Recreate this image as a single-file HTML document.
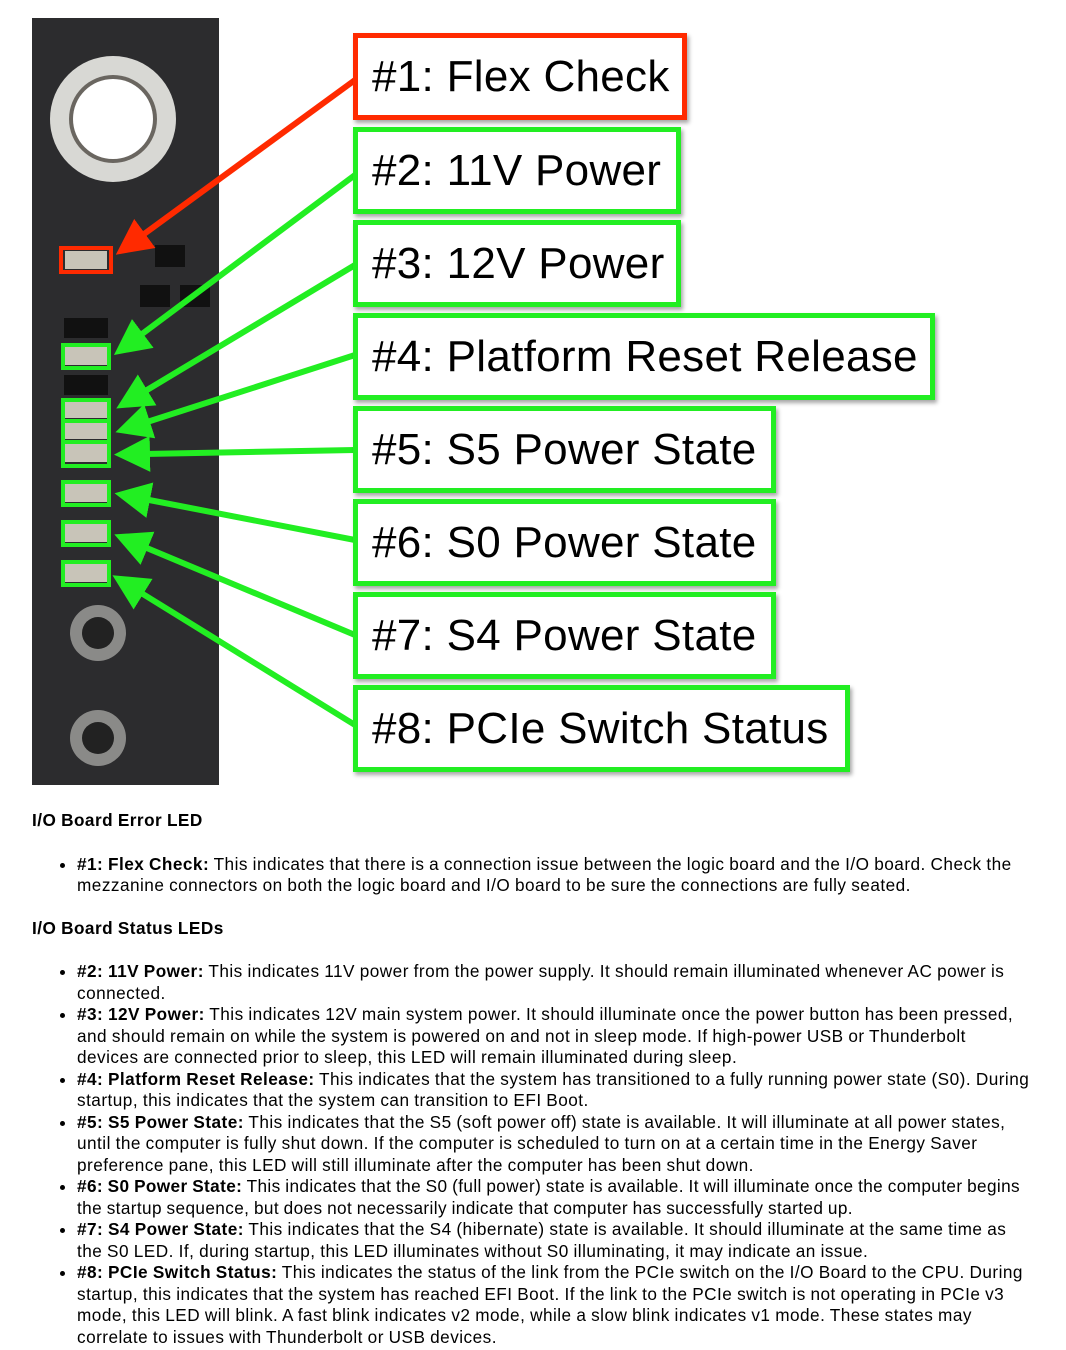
<!DOCTYPE html>
<html><head><meta charset="utf-8"><style>
body{margin:0;background:#fff;width:1066px;height:1350px;position:relative;overflow:hidden;font-family:"Liberation Sans",Arial,sans-serif;color:#000}
.box{position:absolute;left:353px;height:77px;border:5px solid #22ee22;box-sizing:content-box;background:#fff;font-size:44px;line-height:77px;padding-left:14px;box-shadow:2px 3px 4px rgba(0,0,0,.35);white-space:nowrap;letter-spacing:0.3px}
.txt{position:absolute;left:32px;top:810px;width:998px;font-size:17.2px;line-height:21.5px;letter-spacing:0.47px;word-spacing:-0.5px}
h4{font-size:17.2px;margin:0;font-weight:bold}
ul{margin:0;padding-left:45px}
li{margin:0}
</style></head><body>
<svg width="1066" height="800" style="position:absolute;left:0;top:0">
<defs>
<marker id="g" markerWidth="6" markerHeight="6" refX="1" refY="3" orient="auto" markerUnits="strokeWidth"><path d="M0,0 L6,3 L0,6 z" fill="#22ee22"/></marker>
<marker id="r" markerWidth="6" markerHeight="6" refX="1" refY="3" orient="auto" markerUnits="strokeWidth"><path d="M0,0 L6,3 L0,6 z" fill="#ff2a00"/></marker>
</defs>
<rect x="32" y="18" width="187" height="767" fill="#2c2c2e"/>
<circle cx="113" cy="119" r="63" fill="#d8d8d4"/>
<circle cx="113" cy="119" r="44" fill="#6a6660"/>
<circle cx="113" cy="119" r="40" fill="#fff"/>
<g fill="#c8c4b8">
<rect x="65" y="251" width="42" height="18"/><rect x="65" y="347" width="42" height="18"/>
<rect x="65" y="402" width="42" height="16"/><rect x="65" y="423" width="42" height="16"/><rect x="65" y="444" width="42" height="18"/>
<rect x="65" y="484" width="42" height="18"/><rect x="65" y="524" width="42" height="18"/><rect x="65" y="564" width="42" height="18"/>
</g>
<g fill="#111"><rect x="155" y="245" width="30" height="22"/><rect x="140" y="285" width="30" height="22"/><rect x="180" y="285" width="30" height="22"/><rect x="64" y="318" width="44" height="20"/><rect x="64" y="375" width="44" height="20"/></g>
<circle cx="98" cy="633" r="28" fill="#8a8a88"/><circle cx="98" cy="633" r="16" fill="#222"/>
<circle cx="98" cy="738" r="28" fill="#8a8a88"/><circle cx="98" cy="738" r="16" fill="#222"/>
<rect x="61" y="248" width="50" height="24" fill="none" stroke="#ff2a00" stroke-width="4"/>
<g fill="none" stroke="#22ee22" stroke-width="4">
<rect x="63" y="345" width="46" height="23"/><rect x="63" y="400" width="46" height="66"/>
<line x1="63" y1="421" x2="109" y2="421"/><line x1="63" y1="442" x2="109" y2="442"/>
<rect x="63" y="482" width="46" height="23"/><rect x="63" y="522" width="46" height="23"/><rect x="63" y="562" width="46" height="23"/>
</g>
<g stroke-width="6">
<line x1="355" y1="80" x2="140" y2="237" stroke="#ff2a00" marker-end="url(#r)"/>
<g stroke="#22ee22" marker-end="url(#g)">
<line x1="355" y1="175" x2="138" y2="337"/>
<line x1="355" y1="265" x2="142" y2="393"/>
<line x1="355" y1="355" x2="144" y2="423"/>
<line x1="355" y1="450" x2="144" y2="454"/>
<line x1="355" y1="540" x2="144" y2="499"/>
<line x1="355" y1="635" x2="142" y2="546"/>
<line x1="355" y1="725" x2="138" y2="591"/>
</g></g>
</svg>
<div class="box" style="top:33px;width:310px;border-color:#ff2a00">#1: Flex Check</div>
<div class="box" style="top:127px;width:304px">#2: 11V Power</div>
<div class="box" style="top:220px;width:304px">#3: 12V Power</div>
<div class="box" style="top:313px;width:558px">#4: Platform Reset Release</div>
<div class="box" style="top:406px;width:399px">#5: S5 Power State</div>
<div class="box" style="top:499px;width:399px">#6: S0 Power State</div>
<div class="box" style="top:592px;width:399px">#7: S4 Power State</div>
<div class="box" style="top:685px;width:473px">#8: PCIe Switch Status</div>
<div class="txt">
<h4>I/O Board Error LED</h4>
<div style="height:22px"></div>
<ul><li><b>#1: Flex Check:</b> This indicates that there is a connection issue between the logic board and the I/O board. Check the mezzanine connectors on both the logic board and I/O board to be sure the connections are fully seated.</li></ul>
<div style="height:21px"></div>
<h4>I/O Board Status LEDs</h4>
<div style="height:22px"></div>
<ul>
<li><b>#2: 11V Power:</b> This indicates 11V power from the power supply. It should remain illuminated whenever AC power is connected.</li>
<li><b>#3: 12V Power:</b> This indicates 12V main system power. It should illuminate once the power button has been pressed, and should remain on while the system is powered on and not in sleep mode. If high-power USB or Thunderbolt devices are connected prior to sleep, this LED will remain illuminated during sleep.</li>
<li><b>#4: Platform Reset Release:</b> This indicates that the system has transitioned to a fully running power state (S0). During startup, this indicates that the system can transition to EFI Boot.</li>
<li><b>#5: S5 Power State:</b> This indicates that the S5 (soft power off) state is available. It will illuminate at all power states, until the computer is fully shut down. If the computer is scheduled to turn on at a certain time in the Energy Saver preference pane, this LED will still illuminate after the computer has been shut down.</li>
<li style="letter-spacing:0.38px"><b>#6: S0 Power State:</b> This indicates that the S0 (full power) state is available. It will illuminate once the computer begins the startup sequence, but does not necessarily indicate that computer has successfully started up.</li>
<li><b>#7: S4 Power State:</b> This indicates that the S4 (hibernate) state is available. It should illuminate at the same time as the S0 LED. If, during startup, this LED illuminates without S0 illuminating, it may indicate an issue.</li>
<li><b>#8: PCIe Switch Status:</b> This indicates the status of the link from the PCIe switch on the I/O Board to the CPU. During startup, this indicates that the system has reached EFI Boot. If the link to the PCIe switch is not operating in PCIe v3 mode, this LED will blink. A fast blink indicates v2 mode, while a slow blink indicates v1 mode. These states may correlate to issues with Thunderbolt or USB devices.</li>
</ul>
</div>
</body></html>
